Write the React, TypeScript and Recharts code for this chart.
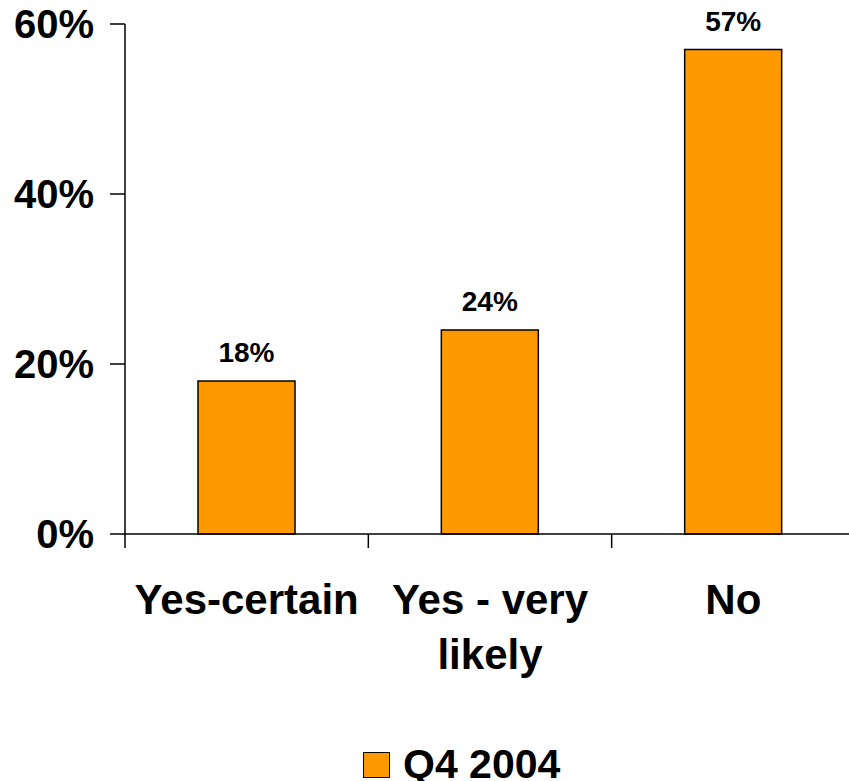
import React from 'react';
import { BarChart, Bar, XAxis, YAxis, Legend, LabelList } from 'recharts';

// Survey answers and their shares (percent)
const categories = ['Yes-certain', 'Yes - very likely', 'No'];
const q4_2004 = [18, 24, 57];
const seriesName = 'Q4 2004';
const yTicks = [0, 20, 40, 60];

const data = categories.map((category, i) => ({ category, value: q4_2004[i] }));

const FONT = '"Liberation Sans", Arial, Helvetica, sans-serif';
const ORANGE = '#FF9900';
const INK = '#000000';
const CAT_FONT_SIZE = 42;
const CAT_LINE_HEIGHT = 55;

let measureCtx: CanvasRenderingContext2D | null = null;
function measure(text: string): number {
  if (!measureCtx && typeof document !== 'undefined') {
    measureCtx = document.createElement('canvas').getContext('2d');
  }
  if (!measureCtx) return text.length * CAT_FONT_SIZE * 0.55;
  measureCtx.font = `bold ${CAT_FONT_SIZE}px ${FONT}`;
  return measureCtx.measureText(text).width;
}

// Greedy word wrap for axis labels.
function wrap(text: string, maxWidth: number): string[] {
  const words = text.split(/\s+/);
  const lines: string[] = [];
  let current = '';
  words.forEach((w) => {
    const trial = current ? `${current} ${w}` : w;
    if (current && measure(trial) > maxWidth) {
      lines.push(current);
      current = w;
    } else {
      current = trial;
    }
  });
  if (current) lines.push(current);
  return lines;
}

// Category label plus tick marks on the band boundaries.
function CategoryTick(props: any) {
  const { x, y, payload, width, visibleTicksCount, index } = props;
  const band = width / visibleTicksCount;
  const left = x - band / 2;
  const right = x + band / 2;
  const isLast = index === visibleTicksCount - 1;
  const lines = wrap(String(payload.value), band - 4);
  return (
    <g>
      <line x1={left} x2={left} y1={y} y2={y + 14} stroke={INK} strokeWidth={1.5} />
      {isLast && <line x1={right} x2={right} y1={y} y2={y + 14} stroke={INK} strokeWidth={1.5} />}
      <text
        x={x}
        y={y + 80}
        textAnchor="middle"
        fill={INK}
        fontSize={CAT_FONT_SIZE}
        fontWeight={700}
        fontFamily={FONT}
      >
        {lines.map((line, i) => (
          <tspan key={i} x={x} dy={i === 0 ? 0 : CAT_LINE_HEIGHT}>
            {line}
          </tspan>
        ))}
      </text>
    </g>
  );
}

function LegendContent(props: any) {
  const { payload = [] } = props;
  return (
    <div style={{ display: 'flex', alignItems: 'center' }}>
      {payload.map((entry: any) => (
        <div key={entry.value} style={{ display: 'flex', alignItems: 'center', height: 41 }}>
          <span
            style={{
              display: 'inline-block',
              width: 27,
              height: 26,
              boxSizing: 'border-box',
              background: ORANGE,
              border: `1.5px solid ${INK}`,
            }}
          />
          <span
            style={{
              marginLeft: 13,
              fontFamily: FONT,
              fontSize: 41,
              fontWeight: 700,
              lineHeight: '41px',
              color: INK,
              whiteSpace: 'nowrap',
            }}
          >
            {entry.value}
          </span>
        </div>
      ))}
    </div>
  );
}

export default function App() {
  return (
    <div
      style={{
        position: 'absolute',
        left: 0,
        top: 0,
        width: 849,
        height: 781,
        overflow: 'hidden',
        background: '#ffffff',
      }}
    >
      <BarChart
        width={860}
        height={781}
        data={data}
        margin={{ top: 24, right: 5, left: 0, bottom: 0 }}
        barCategoryGap="30%"
      >
        <YAxis
          type="number"
          domain={[0, 60]}
          ticks={yTicks}
          interval={0}
          width={125}
          tickFormatter={(v: number) => `${v}%`}
          tickSize={15}
          tickMargin={16}
          axisLine={{ stroke: INK, strokeWidth: 1.5 }}
          tickLine={{ stroke: INK, strokeWidth: 1.5 }}
          tick={{ fill: INK, fontSize: 40, fontWeight: 700, fontFamily: FONT }}
        />
        <XAxis
          dataKey="category"
          type="category"
          height={247}
          interval={0}
          tickSize={0}
          tickMargin={0}
          tickLine={false}
          axisLine={{ stroke: INK, strokeWidth: 1.5 }}
          tick={<CategoryTick />}
        />
        <Legend
          layout="horizontal"
          verticalAlign="middle"
          align="center"
          content={<LegendContent />}
          wrapperStyle={{ left: 363, top: 744, width: 'auto', height: 'auto' }}
        />
        <Bar
          dataKey="value"
          name={seriesName}
          fill={ORANGE}
          stroke={INK}
          strokeWidth={1.5}
          isAnimationActive={false}
        >
          <LabelList
            dataKey="value"
            position="top"
            offset={19}
            formatter={(v: any) => `${v}%`}
            fill={INK}
            style={{ fontFamily: FONT, fontSize: 28, fontWeight: 700 }}
          />
        </Bar>
      </BarChart>
    </div>
  );
}
